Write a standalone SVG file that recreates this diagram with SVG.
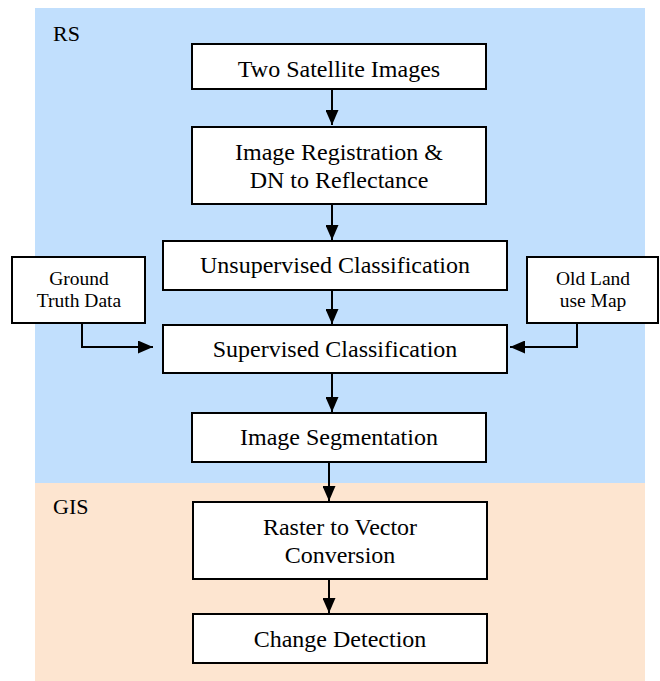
<svg xmlns="http://www.w3.org/2000/svg" width="660" height="681" viewBox="0 0 660 681">
<style>
.box{fill:#fff;stroke:#000;stroke-width:2}
text{fill:#000}
.t{font-size:24px;text-anchor:middle}
.s{font-size:19.5px;text-anchor:middle}
.lbl{font-size:22px}
.c{fill:none;stroke:#000;stroke-width:2}
</style>
<defs>
<marker id="ah" markerUnits="userSpaceOnUse" markerWidth="15" markerHeight="13" refX="15" refY="6.5" orient="auto">
<path d="M0,0 L15,6.5 L0,13 z" fill="#000"/>
</marker>
</defs>
<rect x="35" y="8" width="610" height="475" fill="#C1DFFD"/>
<rect x="35" y="483" width="610" height="198" fill="#FDE5D0"/>
<g font-family="Liberation Serif, DejaVu Serif, serif">
<text class="lbl" x="53" y="41">RS</text>
<text class="lbl" x="53" y="514">GIS</text>
</g>
<g id="connectors">
<line class="c" x1="332" y1="89" x2="332" y2="125" marker-end="url(#ah)"/>
<line class="c" x1="332" y1="204" x2="332" y2="240" marker-end="url(#ah)"/>
<line class="c" x1="332" y1="290" x2="332" y2="324" marker-end="url(#ah)"/>
<line class="c" x1="332" y1="373" x2="332" y2="412" marker-end="url(#ah)"/>
<line class="c" x1="329" y1="462" x2="329" y2="501" marker-end="url(#ah)"/>
<line class="c" x1="329" y1="579" x2="329" y2="613" marker-end="url(#ah)"/>
<polyline class="c" points="82,323 82,347 153,347" marker-end="url(#ah)"/>
<polyline class="c" points="577,323 577,347 510,347" marker-end="url(#ah)"/>
</g>
<g font-family="Liberation Serif, DejaVu Serif, serif">
<g id="n1"><rect class="box" x="192" y="44" width="294" height="45"/><text class="t" x="339" y="77">Two Satellite Images</text></g>
<g id="n2"><rect class="box" x="192" y="127" width="294" height="77"/><text class="t" x="339" y="160">Image Registration &amp;</text><text class="t" x="339" y="188">DN to Reflectance</text></g>
<g id="n3"><rect class="box" x="163" y="241" width="344" height="49"/><text class="t" x="335" y="273">Unsupervised Classification</text></g>
<g id="n4"><rect class="box" x="12" y="257" width="133" height="66"/><text class="s" x="79" y="285">Ground</text><text class="s" x="79" y="307">Truth Data</text></g>
<g id="n5"><rect class="box" x="527" y="257" width="131" height="66"/><text class="s" x="593" y="285">Old Land</text><text class="s" x="593" y="307">use Map</text></g>
<g id="n6"><rect class="box" x="163" y="325" width="344" height="48"/><text class="t" x="335" y="357">Supervised Classification</text></g>
<g id="n7"><rect class="box" x="192" y="413" width="294" height="49"/><text class="t" x="339" y="445">Image Segmentation</text></g>
<g id="n8"><rect class="box" x="193" y="502" width="294" height="77"/><text class="t" x="340" y="535">Raster to Vector</text><text class="t" x="340" y="563">Conversion</text></g>
<g id="n9"><rect class="box" x="193" y="614" width="294" height="49"/><text class="t" x="340" y="647">Change Detection</text></g>
</g>
</svg>
